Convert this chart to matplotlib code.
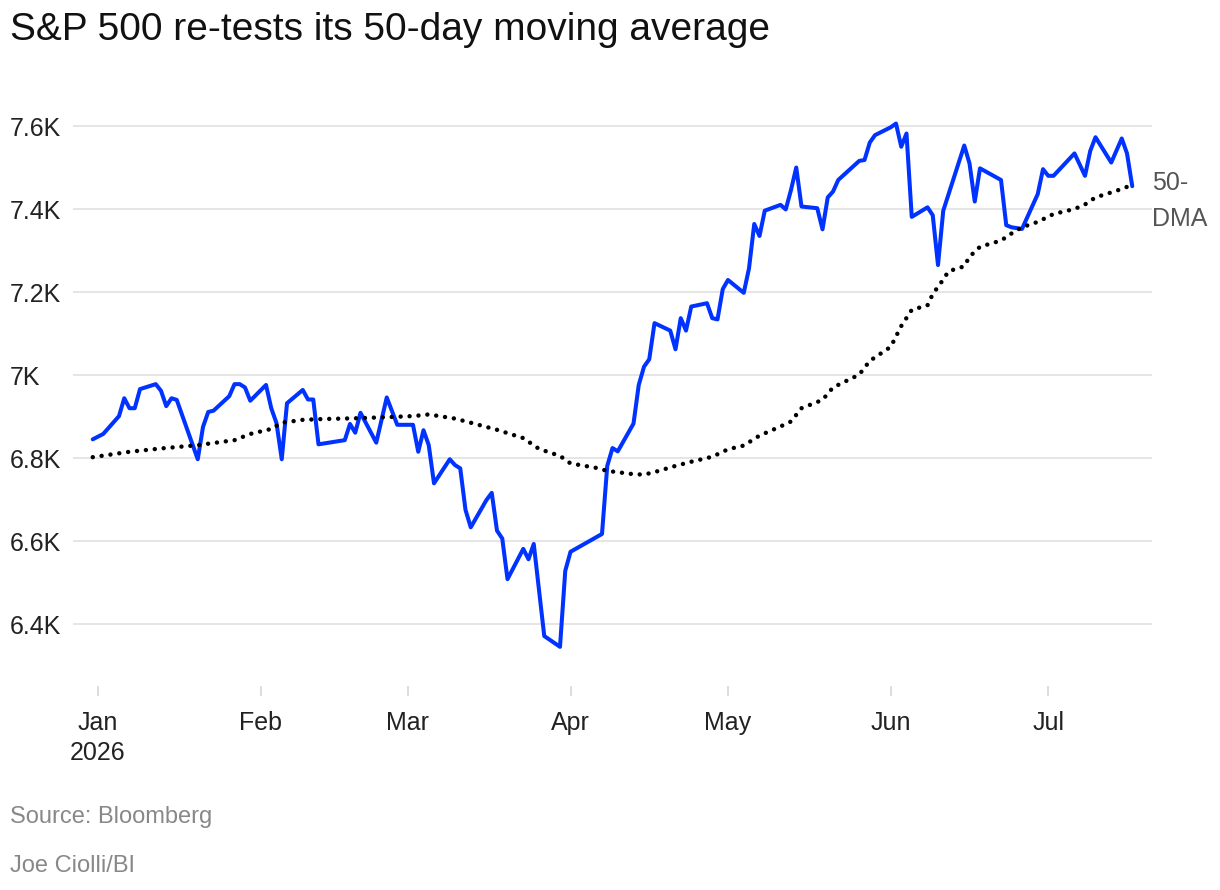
import matplotlib
matplotlib.use("Agg")
import matplotlib.pyplot as plt
import matplotlib.dates as mdates
import pandas as pd

# ------------------------
# Data
# ------------------------
spx_dates = [
    "2025-12-31", "2026-01-02", "2026-01-05", "2026-01-06", "2026-01-07", "2026-01-08",
    "2026-01-09", "2026-01-12", "2026-01-13", "2026-01-14", "2026-01-15", "2026-01-16",
    "2026-01-20", "2026-01-21", "2026-01-22", "2026-01-23", "2026-01-26", "2026-01-27",
    "2026-01-28", "2026-01-29", "2026-01-30", "2026-02-02", "2026-02-03", "2026-02-04",
    "2026-02-05", "2026-02-06", "2026-02-09", "2026-02-10", "2026-02-11", "2026-02-12",
    "2026-02-17", "2026-02-18", "2026-02-19", "2026-02-20", "2026-02-23", "2026-02-25",
    "2026-02-27", "2026-03-02", "2026-03-03", "2026-03-04", "2026-03-05", "2026-03-06",
    "2026-03-09", "2026-03-10", "2026-03-11", "2026-03-12", "2026-03-13", "2026-03-16",
    "2026-03-17", "2026-03-18", "2026-03-19", "2026-03-20", "2026-03-23", "2026-03-24",
    "2026-03-25", "2026-03-27", "2026-03-30", "2026-03-31", "2026-04-01", "2026-04-07",
    "2026-04-08", "2026-04-09", "2026-04-10", "2026-04-13", "2026-04-14", "2026-04-15",
    "2026-04-16", "2026-04-17", "2026-04-20", "2026-04-21", "2026-04-22", "2026-04-23",
    "2026-04-24", "2026-04-27", "2026-04-28", "2026-04-29", "2026-04-30", "2026-05-01",
    "2026-05-04", "2026-05-05", "2026-05-06", "2026-05-07", "2026-05-08", "2026-05-11",
    "2026-05-12", "2026-05-13", "2026-05-14", "2026-05-15", "2026-05-18", "2026-05-19",
    "2026-05-20", "2026-05-21", "2026-05-22", "2026-05-26", "2026-05-27", "2026-05-28",
    "2026-05-29", "2026-06-01", "2026-06-02", "2026-06-03", "2026-06-04", "2026-06-05",
    "2026-06-08", "2026-06-09", "2026-06-10", "2026-06-11", "2026-06-15", "2026-06-16",
    "2026-06-17", "2026-06-18", "2026-06-22", "2026-06-23", "2026-06-24", "2026-06-26",
    "2026-06-29", "2026-06-30", "2026-07-01", "2026-07-02", "2026-07-06", "2026-07-08",
    "2026-07-09", "2026-07-10", "2026-07-13", "2026-07-15", "2026-07-16", "2026-07-17",
]
spx_close = [
    6845, 6858, 6901, 6944, 6920, 6920,
    6966, 6978, 6962, 6925, 6944, 6940,
    6797, 6875, 6911, 6914, 6949, 6978,
    6978, 6970, 6938, 6976, 6920, 6884,
    6797, 6932, 6964, 6941, 6941, 6833,
    6843, 6882, 6861, 6909, 6837, 6946,
    6880, 6880, 6815, 6867, 6831, 6739,
    6797, 6783, 6775, 6675, 6633, 6699,
    6716, 6625, 6606, 6508, 6581, 6556,
    6593, 6371, 6345, 6528, 6574, 6617,
    6781, 6824, 6816, 6883, 6976, 7020,
    7038, 7125, 7107, 7062, 7137, 7107,
    7165, 7173, 7137, 7134, 7207, 7229,
    7198, 7257, 7364, 7335, 7396, 7410,
    7399, 7446, 7500, 7406, 7402, 7351,
    7428, 7442, 7470, 7516, 7518, 7560,
    7578, 7597, 7606, 7550, 7582, 7381,
    7404, 7385, 7265, 7396, 7553, 7510,
    7418, 7498, 7470, 7361, 7356, 7352,
    7436, 7496, 7480, 7480, 7534, 7480,
    7540, 7573, 7512, 7570, 7534, 7455,
]

dma_dates = [
    "2025-12-31", "2026-01-07", "2026-01-13", "2026-01-20", "2026-01-27", "2026-01-30",
    "2026-02-03", "2026-02-05", "2026-02-09", "2026-02-13", "2026-02-20", "2026-03-02",
    "2026-03-05", "2026-03-10", "2026-03-13", "2026-03-18", "2026-03-23", "2026-03-26",
    "2026-03-30", "2026-04-01", "2026-04-06", "2026-04-08", "2026-04-13", "2026-04-15",
    "2026-04-17", "2026-04-21", "2026-04-24", "2026-04-28", "2026-05-01", "2026-05-04",
    "2026-05-07", "2026-05-11", "2026-05-13", "2026-05-15", "2026-05-19", "2026-05-21",
    "2026-05-26", "2026-05-28", "2026-06-01", "2026-06-03", "2026-06-05", "2026-06-08",
    "2026-06-09", "2026-06-11", "2026-06-12", "2026-06-15", "2026-06-16", "2026-06-18",
    "2026-06-22", "2026-06-24", "2026-06-26", "2026-06-29", "2026-07-02", "2026-07-06",
    "2026-07-08", "2026-07-10", "2026-07-14", "2026-07-17",
]
dma_values = [
    6802, 6815, 6823, 6831, 6843, 6858,
    6870, 6885, 6892, 6894, 6896, 6901,
    6905, 6895, 6885, 6868, 6848, 6822,
    6805, 6787, 6776, 6769, 6761, 6760,
    6766, 6781, 6791, 6803, 6821, 6830,
    6854, 6876, 6888, 6920, 6940, 6970,
    7001, 7034, 7068, 7118, 7157, 7168,
    7195, 7230, 7250, 7262, 7285, 7309,
    7324, 7341, 7356, 7369, 7388, 7400,
    7411, 7428, 7444, 7458,
]

y_ticks = [6400, 6600, 6800, 7000, 7200, 7400, 7600]
y_labels = ["6.4K", "6.6K", "6.8K", "7K", "7.2K", "7.4K", "7.6K"]
month_starts = ["2026-01-01", "2026-02-01", "2026-03-01", "2026-04-01",
                "2026-05-01", "2026-06-01", "2026-07-01"]
month_labels = ["Jan\n2026", "Feb", "Mar", "Apr", "May", "Jun", "Jul"]

title = "S&P 500 re-tests its 50-day moving average"
source = "Source: Bloomberg"
byline = "Joe Ciolli/BI"

# ------------------------
# Figure
# ------------------------
plt.rcParams["font.family"] = ["Liberation Sans", "DejaVu Sans"]

W, H = 1220, 890
fig = plt.figure(figsize=(W / 100, H / 100), dpi=100)
ax = fig.add_axes([73 / W, 1 - 686 / H, 1079 / W, 586 / H])

spx_x = pd.to_datetime(spx_dates)
dma_x = pd.to_datetime(dma_dates)

ax.plot(spx_x, spx_close, color="#0033ff", lw=2.9, solid_joinstyle="round",
        solid_capstyle="round", zorder=3)
ax.plot(dma_x, dma_values, color="black", lw=3.2, linestyle=(0, (0.01, 2.0)),
        dash_capstyle="round", zorder=4)

jan1 = mdates.date2num(pd.Timestamp("2026-01-01"))
ax.set_xlim(jan1 - 25 / 5.25, jan1 + (1152 - 98) / 5.25)
ax.set_ylim(6250.6, 7662.7)

for s in ax.spines.values():
    s.set_visible(False)

ax.set_yticks(y_ticks)
ax.set_yticklabels(y_labels)
ax.grid(axis="y", color="#e3e3e3", lw=1.3)
ax.set_axisbelow(True)
ax.tick_params(axis="y", length=0, pad=45.4, labelsize=18, labelcolor="#222222")
for lab in ax.get_yticklabels():
    lab.set_horizontalalignment("left")

ax.set_xticks(pd.to_datetime(month_starts))
ax.set_xticklabels(month_labels, linespacing=1.3)
ax.tick_params(axis="x", direction="out", length=7.2, width=1.4, color="#dddddd",
               pad=11, labelsize=18, labelcolor="#222222")

# End label for the moving average
ax.annotate("50-\nDMA", xy=(dma_x[-1], dma_values[-1]), xytext=(20, -16),
            textcoords="offset pixels", ha="left", va="center", fontsize=18,
            color="#555555", linespacing=1.6, annotation_clip=False)

fig.text(10 / W, 1 - 30 / H, title, fontsize=28, color="#111111", va="center", ha="left")
fig.text(10 / W, 1 - 817 / H, source, fontsize=17, color="#888888", va="center", ha="left")
fig.text(10 / W, 1 - 866 / H, byline, fontsize=17, color="#888888", va="center", ha="left")

fig.savefig("out.png", dpi=100)
